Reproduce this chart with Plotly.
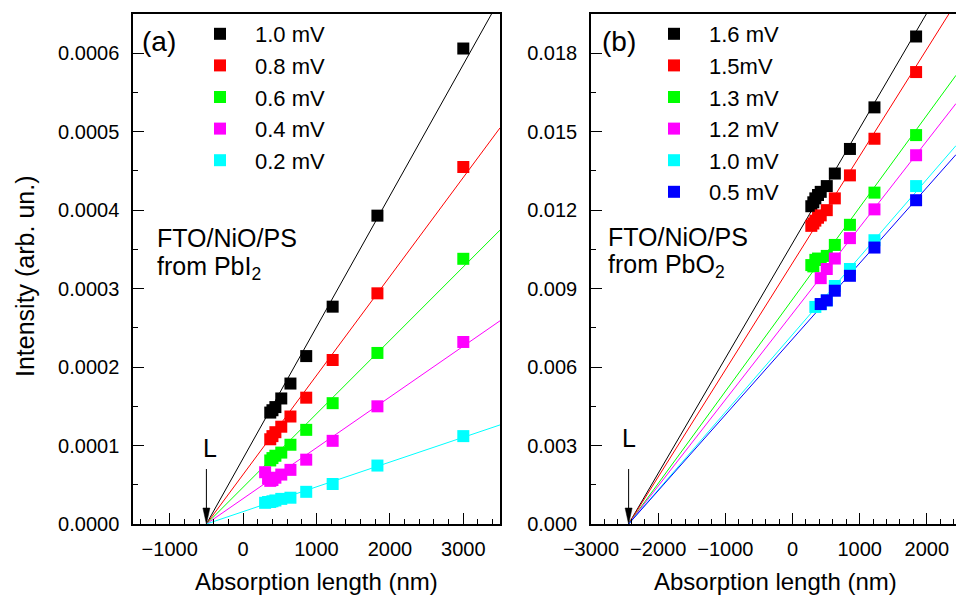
import numpy as np
import plotly.graph_objects as go

FIG_W, FIG_H = 956, 596
FONT = "Liberation Sans, Arial, sans-serif"

# ---------------- panel (a): FTO/NiO/PS from PbI2 ----------------
length_a = [300, 340, 370, 400, 440, 520, 645, 860, 1220, 1830, 3000]
int_a_10 = [None, None, 0.000142, 0.000145, 0.000149, 0.000160, 0.000179, 0.000214, 0.000277, 0.000393, 0.000606]
int_a_08 = [None, None, 0.000108, 0.000112, 0.000117, 0.000124, 0.000137, 0.000161, 0.000209, 0.000294, 0.000455]
int_a_06 = [None, None, 0.000081, 0.000084, 0.000087, 0.000091, 0.000101, 0.000120, 0.000154, 0.000218, 0.000338]
int_a_04 = [0.000066, 0.000058, 0.000055, 0.000056, 0.000059, 0.000063, 0.000069, 0.000082, 0.000106, 0.000150, 0.000232]
int_a_02 = [0.000027, 0.000028, 0.000028, 0.000029, 0.000030, 0.000032, 0.0000335, 0.000041, 0.000051, 0.0000745, 0.000112]
labels_a = ["1.0 mV", "0.8 mV", "0.6 mV", "0.4 mV", "0.2 mV"]
L_a = -500

# ---------------- panel (b): FTO/NiO/PS from PbO2 ----------------
length_b = [280, 310, 340, 380, 420, 510, 630, 855, 1220, 1840]
int_b_16 = [0.01215, 0.01230, 0.01245, 0.01258, 0.01270, 0.01292, 0.01340, 0.01434, 0.01593, 0.01864]
int_b_15 = [0.01140, 0.01149, 0.01160, 0.01171, 0.01180, 0.01200, 0.01245, 0.01333, 0.01473, 0.01728]
int_b_13 = [0.00990, 0.00985, 0.01010, 0.01015, 0.01010, 0.01025, 0.01067, 0.01144, 0.01267, 0.01487]
int_b_12 = [None, None, None, None, 0.00940, 0.00975, 0.01015, 0.01093, 0.01203, 0.01410]
int_b_10 = [None, None, 0.00830, None, 0.00840, 0.00855, 0.00910, 0.00975, 0.01085, 0.01292]
int_b_05 = [None, None, None, None, 0.00841, 0.00855, 0.00892, 0.00949, 0.01057, 0.01238]
labels_b = ["1.6 mV", "1.5mV", "1.3 mV", "1.2 mV", "1.0 mV", "0.5 mV"]
L_b = -2440

colors = ["#000000", "#ff0000", "#00ff00", "#ff00ff", "#00ffff", "#0000ff"]

x_range_a = [-1500, 3500]
y_range_a = [0, 0.00065]
x_range_b = [-3000, 2434]
y_range_b = [0, 0.0195]


def slope_through(x, y, x0):
    """Least-squares slope of a line forced through (x0, 0)."""
    pts = [(xi, yi) for xi, yi in zip(x, y) if yi is not None]
    dx = np.array([p[0] for p in pts], dtype=float) - x0
    yy = np.array([p[1] for p in pts], dtype=float)
    return float(dx @ yy / (dx @ dx))


fig = go.Figure()


def add_panel(lengths, series, labels, x0, x_end, xa, ya, legend):
    for vals, name, col in zip(series, labels, colors):
        k = slope_through(lengths, vals, x0)
        fig.add_trace(go.Scatter(
            x=[x0, x_end], y=[0, k * (x_end - x0)], mode="lines",
            line=dict(color=col, width=1), showlegend=False,
            xaxis=xa, yaxis=ya, hoverinfo="skip"))
    for vals, name, col in zip(series, labels, colors):
        fig.add_trace(go.Scatter(
            x=lengths, y=vals, mode="markers", name=name,
            marker=dict(symbol="square", size=12, color=col, line=dict(width=0)),
            xaxis=xa, yaxis=ya, legend=legend, legendgroup=name + legend))


add_panel(length_a, [int_a_10, int_a_08, int_a_06, int_a_04, int_a_02], labels_a,
          L_a, x_range_a[1], "x", "y", "legend")
add_panel(length_b, [int_b_16, int_b_15, int_b_13, int_b_12, int_b_10, int_b_05], labels_b,
          L_b, x_range_b[1], "x2", "y2", "legend2")


def px_x(p):
    return p / FIG_W


def px_y(p):
    return 1 - p / FIG_H


tickfont = dict(family=FONT, size=20, color="black")
common_x = dict(showgrid=False, zeroline=False, showline=True, linecolor="black", linewidth=1.5,
                mirror=True, ticks="inside", ticklen=11, tickwidth=1, tickcolor="black",
                tickfont=tickfont, dtick=1000, tick0=0, ticklabelstandoff=6, automargin=False,
                minor=dict(ticks="inside", ticklen=5, tickwidth=1, tickcolor="black", dtick=200))
common_y = dict(showgrid=False, zeroline=False, showline=True, linecolor="black", linewidth=1.5,
                ticks="inside", ticklen=11, tickwidth=1, tickcolor="black",
                tickfont=tickfont, ticklabelstandoff=8, automargin=False)

legend_font = dict(family=FONT, size=22, color="black")
y_dom = [px_y(524), px_y(14)]
fig.update_layout(
    width=FIG_W, height=FIG_H,
    margin=dict(l=0, r=0, t=0, b=0, autoexpand=False),
    paper_bgcolor="white", plot_bgcolor="white",
    font=dict(family=FONT, color="black"),
    xaxis=dict(common_x, domain=[px_x(133), px_x(500)], range=x_range_a, anchor="y"),
    yaxis=dict(common_y, domain=y_dom, range=y_range_a, dtick=0.0001, tickformat=".4f",
               mirror=True, anchor="x",
               minor=dict(ticks="inside", ticklen=5, tickwidth=1, tickcolor="black", dtick=0.00005)),
    xaxis2=dict(common_x, domain=[px_x(591), 1.0], range=x_range_b, anchor="y2"),
    yaxis2=dict(common_y, domain=y_dom, range=y_range_b, dtick=0.003, tickformat=".3f",
                mirror=False, anchor="x2",
                minor=dict(ticks="inside", ticklen=5, tickwidth=1, tickcolor="black", dtick=0.0015)),
    legend=dict(x=px_x(185), y=px_y(13), xanchor="left", yanchor="top", font=legend_font,
                bgcolor="rgba(0,0,0,0)", itemwidth=60, tracegroupgap=0),
    legend2=dict(x=px_x(639), y=px_y(13), xanchor="left", yanchor="top", font=legend_font,
                 bgcolor="rgba(0,0,0,0)", itemwidth=60, tracegroupgap=0),
)

ann = []


def text_px(x, y, s, size, xanchor="left"):
    ann.append(dict(x=px_x(x), y=px_y(y), xref="paper", yref="paper", text=s,
                    showarrow=False, xanchor=xanchor, yanchor="middle",
                    font=dict(family=FONT, size=size, color="black")))


text_px(140, 42, "(a)", 28)
text_px(600, 42, "(b)", 28)
text_px(155, 238, "FTO/NiO/PS", 25)
text_px(155, 268, "from PbI<sub>2</sub>", 25)
text_px(606, 237, "FTO/NiO/PS", 25)
text_px(606, 266, "from PbO<sub>2</sub>", 25)
text_px(210, 448, "L", 25, "center")
text_px(629, 438, "L", 25, "center")
text_px(316.5, 581, "Absorption length (nm)", 24, "center")
text_px(775, 581, "Absorption length (nm)", 24, "center")
ann.append(dict(x=px_x(25), y=px_y(277), xref="paper", yref="paper",
                text="Intensity (arb. un.)", textangle=-90, showarrow=False,
                xanchor="center", yanchor="middle",
                font=dict(family=FONT, size=25, color="black")))
fig.update_layout(annotations=ann)

# arrows marking the common intercept L (pixel-sized, anchored at the data point)
shapes = []
for xr, yr, x0 in (("x", "y", L_a), ("x2", "y2", L_b)):
    shapes.append(dict(type="path", xref=xr, yref=yr, xsizemode="pixel", ysizemode="pixel",
                       xanchor=x0, yanchor=0, path="M0,15 L0,55",
                       line=dict(color="black", width=1)))
    shapes.append(dict(type="path", xref=xr, yref=yr, xsizemode="pixel", ysizemode="pixel",
                       xanchor=x0, yanchor=0, path="M0,0 L-3.5,16 L3.5,16 Z",
                       fillcolor="black", line=dict(color="black", width=0.5)))
fig.update_layout(shapes=shapes)

fig.write_html("out.html")
